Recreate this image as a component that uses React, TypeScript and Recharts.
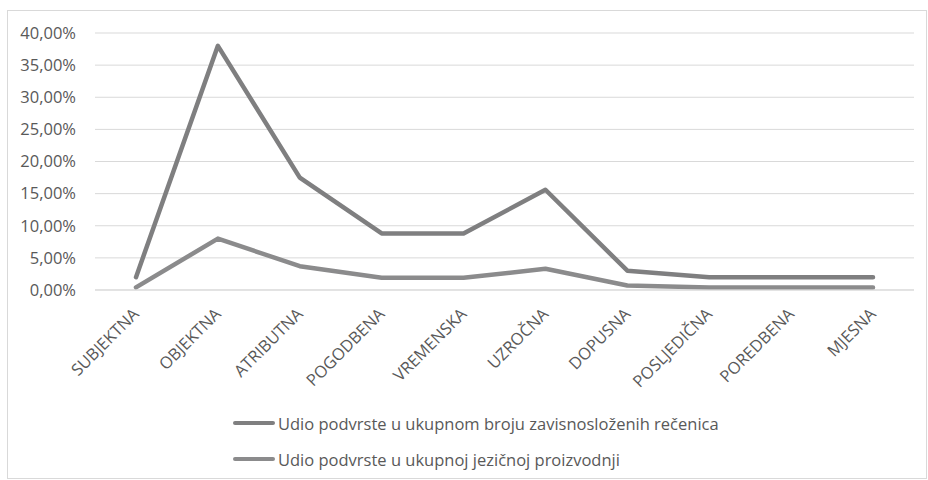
import { LineChart, Line, XAxis, YAxis, CartesianGrid } from "recharts"

const categories = [
  "SUBJEKTNA",
  "OBJEKTNA",
  "ATRIBUTNA",
  "POGODBENA",
  "VREMENSKA",
  "UZROČNA",
  "DOPUSNA",
  "POSLJEDIČNA",
  "POREDBENA",
  "MJESNA",
]

// shares in percent
const udioZavisnoslozenih = [2.0, 38.0, 17.5, 8.8, 8.8, 15.6, 3.0, 2.0, 2.0, 2.0]
const udioJezicnaProizvodnja = [0.4, 8.0, 3.7, 1.9, 1.9, 3.3, 0.7, 0.4, 0.4, 0.4]

const yTicks = [0, 5, 10, 15, 20, 25, 30, 35, 40]

const SERIES = [
  { key: "a", name: "Udio podvrste u ukupnom broju zavisnosloženih rečenica", color: "#7f7f80" },
  { key: "b", name: "Udio podvrste u ukupnoj jezičnoj proizvodnji", color: "#8b8b8c" },
]

const data = categories.map((c, i) => ({
  name: c,
  a: udioZavisnoslozenih[i],
  b: udioJezicnaProizvodnja[i],
}))

const FONT = "'Open Sans', sans-serif"

const fmt = (v: number) => v.toFixed(2).replace(".", ",") + "%"

const XTick = (props: any) => {
  const { x, y, payload } = props
  return (
    <g transform={`translate(${x + 4},${y + 17})`}>
      <text textAnchor="end" transform="rotate(-45)" fontSize={16.5} fill="#595959" fontFamily={FONT}>
        {payload.value}
      </text>
    </g>
  )
}

export default function App() {
  return (
    <div
      style={{
        position: "absolute",
        left: 7,
        top: 10,
        width: 918,
        height: 467,
        border: "1px solid #d9d9d9",
        background: "#fff",
        fontFamily: FONT,
      }}
    >
      <LineChart
        width={918}
        height={380}
        data={data}
        margin={{ top: 22, right: 12, left: 0, bottom: 0 }}
      >
        <CartesianGrid vertical={false} stroke="#d9d9d9" strokeWidth={1} />
        <XAxis
          dataKey="name"
          axisLine={{ stroke: "#d9d9d9" }}
          tickLine={false}
          interval={0}
          height={101}
          padding={{ left: 41, right: 41 }}
          tick={<XTick />}
        />
        <YAxis
          domain={[0, 40]}
          ticks={yTicks}
          tickFormatter={fmt}
          axisLine={false}
          tickLine={false}
          width={87}
          tick={{ fontSize: 16.5, fill: "#595959", fontFamily: FONT }}
          tickMargin={13}
        />
        {SERIES.map((s) => (
          <Line
            key={s.key}
            dataKey={s.key}
            name={s.name}
            stroke={s.color}
            strokeWidth={4.5}
            dot={false}
            strokeLinejoin="round"
            strokeLinecap="round"
            isAnimationActive={false}
          />
        ))}
      </LineChart>

      {/* legend, one series per row */}
      <div style={{ position: "absolute", left: 225, top: 394 }}>
        {SERIES.map((s) => (
          <div
            key={s.key}
            style={{ display: "flex", alignItems: "center", height: 36, fontSize: 16.5, color: "#595959" }}
          >
            <span
              style={{
                display: "inline-block",
                width: 42,
                height: 4,
                borderRadius: 2,
                background: s.color,
                marginRight: 3,
              }}
            />
            <span>{s.name}</span>
          </div>
        ))}
      </div>
    </div>
  )
}
